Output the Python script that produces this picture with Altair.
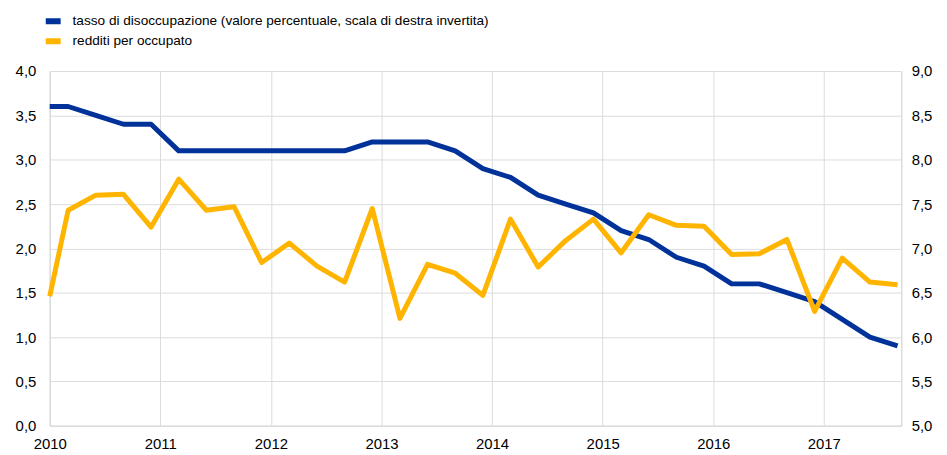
import altair as alt
import pandas as pd

S1 = "tasso di disoccupazione (valore percentuale, scala di destra invertita)"
S2 = "redditi per occupato"
BLUE = "#003299"
YELLOW = "#FFB400"

# time (decimal years): start of 2010, then quarterly observations
t = [2010.0] + [round(2010 + 1 / 6 + 0.25 * k, 4) for k in range(31)]

# unemployment rate (right axis units)
tasso = [8.6, 8.6, 8.5, 8.4, 8.4, 8.1, 8.1, 8.1, 8.1, 8.1, 8.1, 8.1, 8.2, 8.2, 8.2, 8.1,
         7.9, 7.8, 7.6, 7.5, 7.4, 7.2, 7.1, 6.9, 6.8, 6.6, 6.6, 6.5, 6.4, 6.2, 6.0, 5.9]

# compensation per employee (left axis)
redditi = [1.46, 2.43, 2.60, 2.61, 2.24, 2.78, 2.43, 2.47, 1.84, 2.06, 1.80, 1.62, 2.45, 1.21,
           1.82, 1.72, 1.47, 2.33, 1.79, 2.09, 2.33, 1.95, 2.38, 2.26, 2.25, 1.93, 1.94, 2.10,
           1.29, 1.89, 1.62, 1.59]

years = list(range(2010, 2018))
left_ticks = [0.0, 0.5, 1.0, 1.5, 2.0, 2.5, 3.0, 3.5, 4.0]
right_ticks = [5.0, 5.5, 6.0, 6.5, 7.0, 7.5, 8.0, 8.5, 9.0]

df = pd.DataFrame(
    {"t": t * 2, "value": tasso + redditi, "series": [S1] * len(t) + [S2] * len(t)}
)

comma = "replace(format(datum.value, '.1f'), '.', ',')"

x_enc = alt.X(
    "t:Q",
    scale=alt.Scale(domain=[2010, 2017.7], nice=False, zero=False),
    axis=alt.Axis(values=years, format="d", title=None, grid=True, labelFlush=False,
                  labelPadding=11, labelOverlap=False),
)

color_enc = alt.Color(
    "series:N",
    scale=alt.Scale(domain=[S1, S2], range=[BLUE, YELLOW]),
    legend=alt.Legend(
        title=None, orient="none", legendX=-7, legendY=-60, symbolType="stroke",
        symbolStrokeWidth=6, symbolSize=225, labelFontSize=13.7, labelFont="Liberation Sans",
        labelColor="#000000", labelOffset=9, rowPadding=0, clipHeight=20, padding=0,
        labelLimit=800,
    ),
)

base = alt.Chart(df)

blue = base.transform_filter(alt.datum.series == S1).mark_line(
    strokeWidth=5, strokeJoin="round"
).encode(
    x=x_enc,
    y=alt.Y("value:Q", scale=alt.Scale(domain=[5, 9], nice=False, zero=False),
            axis=alt.Axis(orient="right", values=right_ticks, labelExpr=comma, grid=False,
                          title=None, labelPadding=10)),
    color=color_enc,
)

yellow = base.transform_filter(alt.datum.series == S2).mark_line(
    strokeWidth=5, strokeJoin="round"
).encode(
    x=x_enc,
    y=alt.Y("value:Q", scale=alt.Scale(domain=[0, 4], nice=False),
            axis=alt.Axis(orient="left", values=left_ticks, labelExpr=comma, grid=True,
                          title=None, labelPadding=14)),
    color=color_enc,
)

chart = (
    alt.layer(blue, yellow)
    .resolve_scale(y="independent")
    .properties(
        width=857, height=357,
        padding={"left": 42, "top": 62, "right": 38, "bottom": 28},
        autosize=alt.AutoSizeParams(type="none"),
    )
    .configure_view(stroke=None)
    .configure_axis(
        labelFont="Liberation Sans", labelFontSize=15, labelColor="#000000",
        gridColor="#dcdcdc", gridWidth=1, domainColor="#dcdcdc", domainWidth=1.5, ticks=False,
    )
)

chart.save("out.html", embed_options={"renderer": "svg", "actions": False})
